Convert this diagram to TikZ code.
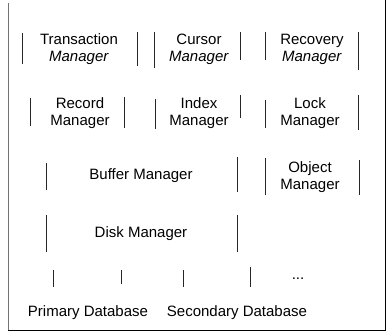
\documentclass[tikz,border=0pt]{standalone}
\usepackage{fontspec}
\setmainfont{Liberation Sans}
\begin{document}
\begin{tikzpicture}[x=1pt,y=-1pt,
    lbl/.style={align=center,inner sep=0pt,font=\fontsize{15}{17}\selectfont},
    bar/.style={line width=0.9pt,black!85}]
      \useasboundingbox (0,0) rectangle (386,334);
      % frame
      \coordinate (tl) at (8,3);
      \coordinate (bl) at (8,330);
      \coordinate (br) at (385,330);
      \coordinate (tr) at (385,0);
      \draw[black!55,line width=0.8pt] (tl) -- (bl);
      \draw[line width=1pt] (bl) -- (br) -- (tr);
      % first row
      \node[lbl] (trans) at (79,49) {Transaction\\\textit{Manager}};
      \node[lbl] (cursor) at (199,49) {Cursor\\\textit{Manager}};
      \node[lbl] (recov) at (312,49) {Recovery\\\textit{Manager}};
      \draw[bar] (22,33) -- (22,64);
      \draw[bar] (137,32) -- (137,66);
      \draw[bar] (154,32) -- (154,68);
      \draw[bar] (240,32) -- (240,60);
      \draw[bar] (265,32) -- (265,60);
      \draw[bar] (358,32) -- (358,70);
      % second row
      \node[lbl] (record) at (80,113) {Record\\Manager};
      \node[lbl] (index) at (199,113) {Index\\Manager};
      \node[lbl] (lock) at (310,113) {Lock\\Manager};
      \draw[bar] (30,98) -- (30,126);
      \draw[bar] (124,97) -- (124,128);
      \draw[bar] (155,99) -- (155,129);
      \draw[bar] (240,95) -- (240,118);
      \draw[bar] (265,100) -- (265,128);
      \draw[bar] (358,95) -- (358,130);
      % third row
      \node[lbl] (buffer) at (141,176) {Buffer Manager};
      \node[lbl] (object) at (310,177) {Object\\Manager};
      \draw[bar] (46,163) -- (46,190);
      \draw[bar] (237,157) -- (237,192);
      \draw[bar] (265,158) -- (265,195);
      \draw[bar] (359,160) -- (359,195);
      % fourth row
      \node[lbl] (disk) at (141,234) {Disk Manager};
      \draw[bar] (46,215) -- (46,252);
      \draw[bar] (237,215) -- (237,252);
      % fifth row
      \draw[bar] (53,270) -- (53,287);
      \draw[bar] (121,270) -- (121,284);
      \draw[bar] (183,270) -- (183,287);
      \draw[bar] (250,267) -- (250,287);
      \node[lbl] (dots) at (298,279) {...};
      % bottom row
      \node[lbl] (primary) at (88,313) {Primary Database};
      \node[lbl] (second) at (237,313) {Secondary Database};
\end{tikzpicture}
\end{document}
